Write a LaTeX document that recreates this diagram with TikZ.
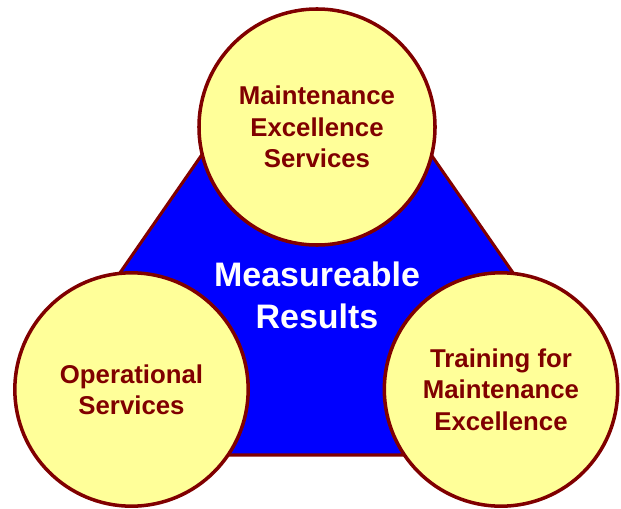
\documentclass[tikz,border=0pt]{standalone}
\usepackage{fontspec}
\setmainfont{Liberation Sans}
\definecolor{darkred}{RGB}{128,0,0}
\definecolor{paleyellow}{RGB}{255,255,153}
\definecolor{pureblue}{RGB}{0,0,255}
\tikzstyle{ring}=[circle,draw=darkred,fill=paleyellow,line width=3pt,inner sep=0pt,text=darkred,font=\bfseries\fontsize{22}{26.8}\selectfont,align=center]
\tikzstyle{base}=[draw=darkred,fill=pureblue,line width=2.6pt,line join=round]
\tikzstyle{core}=[text=white,font=\bfseries\fontsize{29}{35.7}\selectfont,align=center,inner sep=0pt]

\begin{document}
\begin{tikzpicture}[x=0.03cm,y=-0.03cm]
		\useasboundingbox (0,0) rectangle (621,508);
			% Corners of the triangle, tucked under the circles
			\coordinate (t) at (317,60);
			\coordinate (tl) at (210,143);
			\coordinate (ml) at (115,280);
			\coordinate (bl) at (200,455);
			\coordinate (br) at (432,455);
			\coordinate (mr) at (518,280);
			\coordinate (tr) at (423,143);
			\path[base] (t) -- (tl) -- (ml) -- (bl) -- (br) -- (mr) -- (tr) -- cycle;
			\node[core] (res) at (317,295.5) {Measureable\\Results};
			% Then the three circles on top
			\node[ring,minimum size=7.08cm] (mes) at (317,127) {Maintenance\\Excellence\\Services};
			\node[ring,minimum size=7.0cm] (ops) at (131.5,389.5) {Operational\\Services};
			\node[ring,minimum size=7.0cm] (tme) at (501,389.5) {Training for\\Maintenance\\Excellence};
		\end{tikzpicture}
\end{document}
